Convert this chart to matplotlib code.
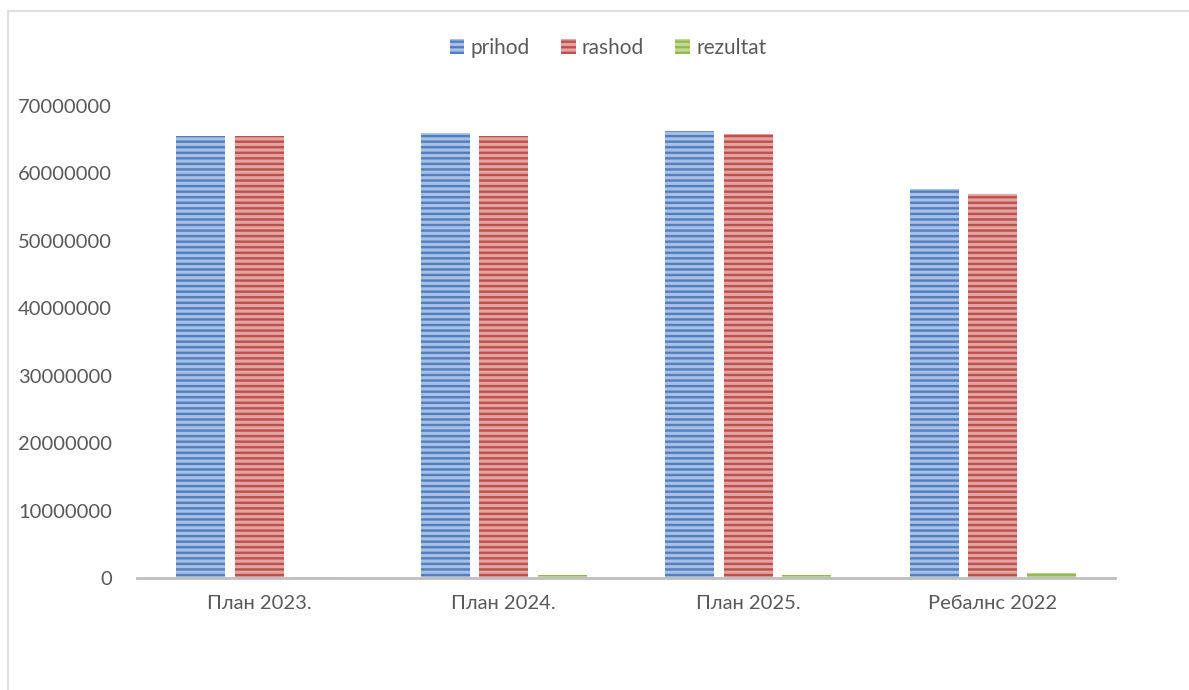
import matplotlib.pyplot as plt
import numpy as np
from matplotlib.lines import Line2D

categories = ["План 2023.", "План 2024.", "План 2025.", "Ребалнс 2022"]
prihod = [65600000, 66000000, 66300000, 57700000]
rashod = [65500000, 65550000, 65800000, 57000000]
rezultat = [100000, 450000, 500000, 700000]
series_names = ["prihod", "rashod", "rezultat"]

plt.rcParams["font.family"] = ["Lato", "DejaVu Sans"]
plt.rcParams["hatch.linewidth"] = 1.7

fig = plt.figure(figsize=(11.89, 6.90), dpi=100)
W, H = 1189, 690
ax = fig.add_axes([137 / W, 1 - 578 / H, (1115 - 137) / W, (578 - 106) / H])

# barvy ve stylu Office (světlejší výplň + tmavší vodorovné pruhy)
faces = ["#A9C0E4", "#E0A4A2", "#C2D893"]
edges = ["#4F7FC0", "#C04F4B", "#94B852"]

x = np.arange(len(categories))
width = 0.2
step = 0.24
for i, (vals, name) in enumerate(zip([prihod, rashod, rezultat], series_names)):
    ax.bar(x + (i - 1) * step, vals, width, color=faces[i], edgecolor=edges[i],
           hatch="---", linewidth=0, label=name, zorder=2)

ax.set_xlim(-0.5, 3.5)
ax.set_ylim(0, 70000000)
ax.set_yticks(np.arange(0, 70000001, 10000000))
ax.set_yticklabels([str(v) for v in range(0, 70000001, 10000000)])
ax.set_xticks(x)
ax.set_xticklabels(categories)
ax.tick_params(axis="both", length=0, colors="#595959", labelsize=14.5)
ax.tick_params(axis="y", pad=18)
ax.tick_params(axis="x", pad=12)
for s in ["top", "right", "left"]:
    ax.spines[s].set_visible(False)
ax.spines["bottom"].set_color("#BFBFBF")
ax.spines["bottom"].set_linewidth(2)
ax.spines["bottom"].set_zorder(3)

# legenda nahoře
handles = [plt.Rectangle((0, 0), 1, 1, facecolor=faces[i], edgecolor=edges[i],
                         hatch="---", linewidth=0) for i in range(3)]
fig.legend(handles, series_names, loc="center", bbox_to_anchor=(608 / W, 1 - 48 / H),
           ncol=3, frameon=False, fontsize=15, labelcolor="#595959",
           handlelength=0.7, handleheight=0.7, handletextpad=0.3, columnspacing=1.5)

# rámeček grafu (vidět je jen levá a horní strana)
fig.add_artist(Line2D([7.5 / W, 7.5 / W], [0, 1 - 10.5 / H], color="#D9D9D9", lw=1.2))
fig.add_artist(Line2D([7.5 / W, 1], [1 - 10.5 / H, 1 - 10.5 / H], color="#D9D9D9", lw=1.2))

fig.savefig("out.png", dpi=100)
